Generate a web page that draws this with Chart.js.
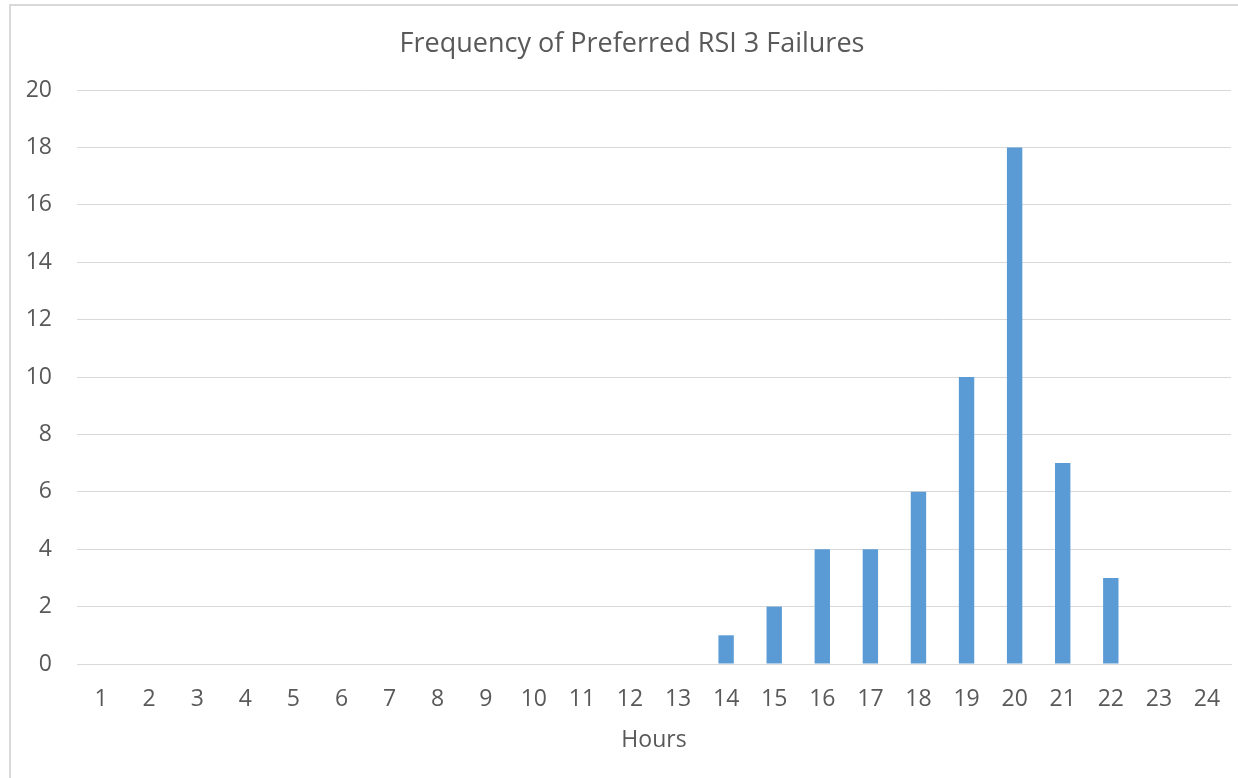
<!DOCTYPE html>
<html>
<head>
<meta charset="utf-8">
<script src="https://cdn.jsdelivr.net/npm/chart.js@4.4.1/dist/chart.umd.min.js"></script>
<style>
  html, body { margin: 0; padding: 0; background: #fff; }
  #wrap { position: relative; width: 1238px; height: 778px; overflow: hidden; }
  #frame { position: absolute; left: 9px; top: 4px; width: 1240px; height: 790px; border: 2px solid #D9D9D9; box-sizing: border-box; }
  canvas { position: absolute; left: 0; top: 0; }
</style>
</head>
<body>
<div id="wrap">
  <div id="frame"></div>
  <canvas id="c" width="1238" height="778"></canvas>
</div>
<script>
const hours = ['1','2','3','4','5','6','7','8','9','10','11','12','13','14','15','16','17','18','19','20','21','22','23','24'];
const failures = [0,0,0,0,0,0,0,0,0,0,0,0,0,1,2,4,4,6,10,18,7,3,0,0];
const yTicks = [0,2,4,6,8,10,12,14,16,18,20];
const titleText = 'Frequency of Preferred RSI 3 Failures';
const xTitle = 'Hours';

const FONT = "'Open Sans', sans-serif";
const TXT = '#595959';
const GRID = '#D9D9D9';

// shift title box so its centre sits where the reference title is
const titleShift = {
  id: 'titleShift',
  afterLayout(chart) {
    if (chart.titleBlock) { chart.titleBlock.left += 33; }
  }
};

new Chart(document.getElementById('c'), {
  type: 'bar',
  data: {
    labels: hours,
    datasets: [{
      data: failures,
      backgroundColor: '#5B9BD5',
      borderWidth: 0,
      barPercentage: 0.32,
      categoryPercentage: 1.0
    }]
  },
  plugins: [titleShift],
  options: {
    responsive: false,
    animation: false,
    layout: { padding: { left: 0, right: 7, top: 0, bottom: 0 } },
    plugins: {
      legend: { display: false },
      tooltip: { enabled: false },
      title: {
        display: true,
        text: titleText,
        color: TXT,
        font: { family: FONT, size: 27, weight: 'normal' },
        padding: { top: 28, bottom: 29.6 }
      }
    },
    scales: {
      x: {
        grid: { display: false, drawTicks: false },
        border: { display: true, color: GRID, width: 1 },
        ticks: { color: TXT, font: { family: FONT, size: 23 }, padding: 22, maxRotation: 0, autoSkip: false },
        title: { display: true, text: xTitle, color: TXT, font: { family: FONT, size: 23 }, padding: { top: 0, bottom: 24 } },
        afterFit: (s) => { s.height = 114; s.paddingLeft = 0; s.paddingRight = 0; }
      },
      y: {
        min: 0, max: 20,
        afterBuildTicks: (s) => { s.ticks = yTicks.map(v => ({ value: v })); },
        grid: { color: GRID, lineWidth: 1, drawTicks: false },
        border: { display: false },
        ticks: { color: TXT, font: { family: FONT, size: 23 }, padding: 25 },
        afterFit: (s) => { s.width = 77; s.paddingTop = 0; s.paddingBottom = 0; }
      }
    }
  }
});
</script>
</body>
</html>
